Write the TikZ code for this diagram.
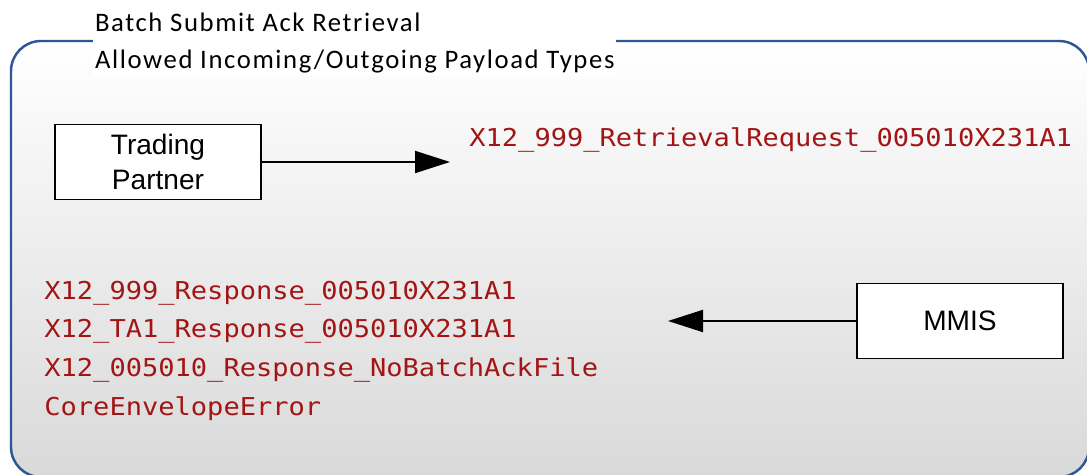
\documentclass[tikz,border=0pt]{standalone}
\usepackage{fontspec}
\setmainfont{Liberation Sans}
\newfontfamily\titlefont[LetterSpace=6]{Carlito}
\newfontfamily\payloadfont[FakeStretch=1.1]{DejaVu Sans Mono}
\usetikzlibrary{arrows.meta,positioning}
\definecolor{frameblue}{RGB}{47,85,151}
\definecolor{payred}{RGB}{163,21,21}

\begin{document}
\begin{tikzpicture}[x=0.02cm,y=-0.02cm,
  box/.style={draw,line width=1.1pt,fill=white,minimum width=4.12cm,minimum height=1.5cm,align=center,font=\fontsize{16}{20}\selectfont},
  payload/.style={anchor=base west,inner sep=0pt,text=payred,font=\payloadfont\fontsize{14}{16}\selectfont},
  flow/.style={line width=1.1pt,-{Triangle[length=0.7cm,width=0.44cm]}}]

\useasboundingbox (0,0) rectangle (1087,475);
\clip (0,0) rectangle (1087,475);
\draw[frameblue,line width=1.4pt,rounded corners=0.6cm,top color=white,bottom color=black!15] (11,41) rectangle (1089,477);
\node[anchor=north west,fill=white,inner xsep=1pt,inner ysep=2pt,align=left,font=\titlefont\fontsize{15.2}{21}\selectfont] (title) at (93,9) {Batch Submit Ack Retrieval\\Allowed Incoming/Outgoing Payload Types};

\node[box] (tp) at (158,162) {Trading\\Partner};
\node[box] (mmis) at (960,321) {MMIS};
\coordinate (req) at (450,162);
\coordinate (resp) at (668,321);

\node[payload] (p1) at (469,147) {X12\_999\_RetrievalRequest\_005010X231A1};
\node[payload] (p2) at (44,300) {X12\_999\_Response\_005010X231A1};
\node[payload] (p3) at (44,338) {X12\_TA1\_Response\_005010X231A1};
\node[payload] (p4) at (44,377) {X12\_005010\_Response\_NoBatchAckFile};
\node[payload] (p5) at (44,416) {CoreEnvelopeError};

\draw[flow] (tp) -- (req);
\draw[flow] (mmis) -- (resp);

\end{tikzpicture}
\end{document}
